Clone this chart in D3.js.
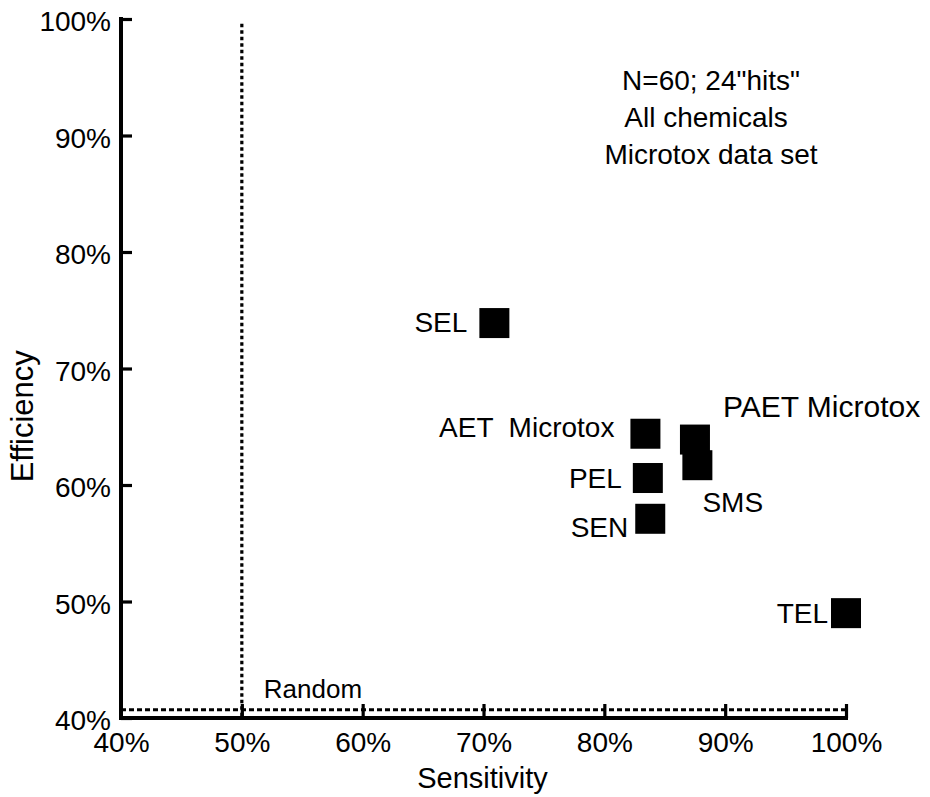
<!DOCTYPE html>
<html>
<head>
<meta charset="utf-8">
<script src="https://cdn.jsdelivr.net/npm/d3@7/dist/d3.min.js"></script>
<style>
  html, body { margin: 0; padding: 0; background: #fff; }
  svg { display: block; }
  text { font-family: "Liberation Sans", Arial, Helvetica, sans-serif; fill: #000; }
</style>
</head>
<body>
<svg id="chart" width="930" height="797"></svg>
<script>
// Screening methods: sensitivity vs. efficiency (Microtox data set)
const methods     = ["SEL", "AET  Microtox", "PAET Microtox", "SMS", "PEL", "SEN", "TEL"];
const sensitivity = [70.9, 83.4, 87.5, 87.7, 83.6, 83.8, 100.0];
const efficiency  = [73.9, 64.4, 63.9, 61.7, 60.6, 57.1, 49.0];

const xTicks = [40, 50, 60, 70, 80, 90, 100];
const yTicks = [40, 50, 60, 70, 80, 90, 100];

// "Random" reference lines
const randomSensitivity = 50;
const randomEfficiency = 40.7;
const randomTop = 99.6;

const noteLines = ['N=60; 24"hits"', "All chemicals", "Microtox data set"];

// label placement for each method (dx, dy from the marker centre, anchor, size)
const labelPlacement = {
  "SEL":           { dx: -27, dy: 9,   anchor: "end",   size: 28 },
  "AET  Microtox": { dx: -31, dy: 3,   anchor: "end",   size: 28 },
  "PAET Microtox": { dx: 28,  dy: -23, anchor: "start", size: 30 },
  "SMS":           { dx: 5,   dy: 47,  anchor: "start", size: 28 },
  "PEL":           { dx: -26, dy: 10,  anchor: "end",   size: 28 },
  "SEN":           { dx: -22, dy: 18,  anchor: "end",   size: 28 },
  "TEL":           { dx: -18, dy: 10,  anchor: "end",   size: 28 }
};

const points = methods.map((m, i) => ({ name: m, s: sensitivity[i], e: efficiency[i] }));

const svg = d3.select("#chart");
const x = d3.scaleLinear().domain([40, 100]).range([121, 846]);
const y = d3.scaleLinear().domain([40, 100]).range([718, 19]);
const pct = d => d + "%";

// random reference lines (dotted)
svg.append("line")
  .attr("x1", x(randomSensitivity)).attr("x2", x(randomSensitivity))
  .attr("y1", y(randomTop)).attr("y2", y(40))
  .attr("stroke", "#000").attr("stroke-width", 3.2)
  .attr("stroke-dasharray", "3.5,3");
svg.append("line")
  .attr("x1", x(40)).attr("x2", x(100))
  .attr("y1", y(randomEfficiency)).attr("y2", y(randomEfficiency))
  .attr("stroke", "#000").attr("stroke-width", 3)
  .attr("stroke-dasharray", "5,3");

svg.append("text")
  .attr("x", x(randomSensitivity) + 22).attr("y", y(randomEfficiency) - 12)
  .attr("font-size", 26)
  .text("Random");

// y axis: ticks pointing into the plot
const yAxis = svg.append("g")
  .attr("transform", `translate(${x(40)},0)`)
  .call(d3.axisLeft(y).tickValues(yTicks).tickFormat(pct).tickSize(-11).tickPadding(10));
yAxis.select(".domain").remove();
yAxis.selectAll(".tick line").attr("stroke", "#000").attr("stroke-width", 3.2);
yAxis.selectAll(".tick text")
  .attr("font-size", 28).attr("font-family", null)
  .attr("dy", "0.42em");

// x axis: ticks pointing up
const xAxis = svg.append("g")
  .attr("transform", `translate(0,${y(40)})`)
  .call(d3.axisBottom(x).tickValues(xTicks).tickFormat(pct).tickSize(-14).tickPadding(14));
xAxis.select(".domain").remove();
xAxis.selectAll(".tick line").attr("stroke", "#000").attr("stroke-width", 3.2);
xAxis.selectAll(".tick").filter(d => d === 40).select("line").remove();
xAxis.selectAll(".tick text")
  .attr("font-size", 28).attr("font-family", null)
  .attr("dy", "0.71em");

// axis lines
svg.append("line")
  .attr("x1", x(40)).attr("x2", x(40))
  .attr("y1", y(100) - 2).attr("y2", y(40) + 2)
  .attr("stroke", "#000").attr("stroke-width", 4);
svg.append("line")
  .attr("x1", x(40) - 2).attr("x2", x(100) + 2)
  .attr("y1", y(40)).attr("y2", y(40))
  .attr("stroke", "#000").attr("stroke-width", 4);

// axis titles
svg.append("text")
  .attr("x", (x(40) + x(100)) / 2 - 1).attr("y", 788)
  .attr("text-anchor", "middle").attr("font-size", 29)
  .text("Sensitivity");
svg.append("text")
  .attr("transform", `translate(33,${y(65.9)}) rotate(-90)`)
  .attr("text-anchor", "middle").attr("font-size", 31)
  .text("Efficiency");

// markers
const size = 30;
svg.append("g").selectAll("rect")
  .data(points)
  .join("rect")
  .attr("x", d => x(d.s) - size / 2)
  .attr("y", d => y(d.e) - size / 2)
  .attr("width", size).attr("height", size)
  .attr("fill", "#000");

// marker labels
svg.append("g").selectAll("text")
  .data(points)
  .join("text")
  .attr("x", d => x(d.s) + labelPlacement[d.name].dx)
  .attr("y", d => y(d.e) + labelPlacement[d.name].dy)
  .attr("text-anchor", d => labelPlacement[d.name].anchor)
  .attr("font-size", d => labelPlacement[d.name].size)
  .attr("xml:space", "preserve")
  .style("white-space", "pre")
  .text(d => d.name);

// note block
svg.append("g").selectAll("text")
  .data(noteLines)
  .join("text")
  .attr("x", (d, i) => i === 1 ? 706 : 711)
  .attr("y", (d, i) => 90 + i * 37)
  .attr("text-anchor", "middle")
  .attr("font-size", 28)
  .text(d => d);
</script>
</body>
</html>
